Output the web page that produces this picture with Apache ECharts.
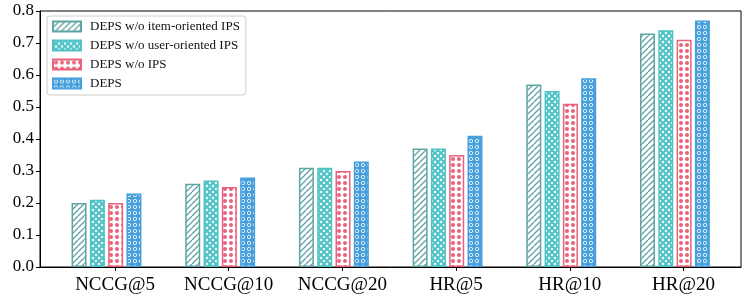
<!DOCTYPE html>
<html>
<head>
<meta charset="utf-8">
<script src="https://cdn.jsdelivr.net/npm/echarts@6/dist/echarts.min.js"></script>
<style>html,body{margin:0;padding:0;background:#fff}#c{width:747px;height:300px}</style>
</head>
<body>
<div id="c"></div>
<script>
const categories = ['NCCG@5', 'NCCG@10', 'NCCG@20', 'HR@5', 'HR@10', 'HR@20'];
const seriesNames = ['DEPS w/o item-oriented IPS', 'DEPS w/o user-oriented IPS', 'DEPS w/o IPS', 'DEPS'];
const woItem = [0.20, 0.26, 0.31, 0.37, 0.57, 0.73];
const woUser = [0.21, 0.27, 0.31, 0.37, 0.55, 0.74];
const woIPS = [0.20, 0.25, 0.30, 0.35, 0.51, 0.71];
const deps = [0.23, 0.28, 0.33, 0.41, 0.59, 0.77];
const yTicks = [0, 0.1, 0.2, 0.3, 0.4, 0.5, 0.6, 0.7, 0.8];

const colors = ['#5fa3a4', '#4fc2c6', '#e9627a', '#479fdb'];
const FONT = '"Liberation Serif", "Times New Roman", serif';

function mk(size, draw) {
  const c = document.createElement('canvas');
  c.width = size; c.height = size;
  const g = c.getContext('2d');
  draw(g, size);
  return { image: c, repeat: 'repeat' };
}
const patterns = [
  mk(6, (g, s) => {
    g.fillStyle = '#fff'; g.fillRect(0, 0, s, s);
    g.strokeStyle = colors[0]; g.lineWidth = 1.3;
    for (const o of [-s, 0, s]) {
      g.beginPath(); g.moveTo(o, s); g.lineTo(o + s, 0); g.stroke();
    }
  }),
  mk(6, (g, s) => {
    g.fillStyle = '#fff'; g.fillRect(0, 0, s, s);
    g.strokeStyle = colors[1]; g.lineWidth = 2;
    for (const o of [-s, 0, s]) {
      g.beginPath(); g.moveTo(o, s); g.lineTo(o + s, 0); g.stroke();
      g.beginPath(); g.moveTo(o, 0); g.lineTo(o + s, s); g.stroke();
    }
  }),
  mk(6, (g, s) => {
    g.fillStyle = '#fff'; g.fillRect(0, 0, s, s);
    g.fillStyle = colors[2];
    g.beginPath(); g.arc(3, 3, 2, 0, Math.PI * 2); g.fill();
  }),
  mk(6, (g, s) => {
    g.fillStyle = colors[3]; g.fillRect(0, 0, s, s);
    g.strokeStyle = '#e8f4fb'; g.lineWidth = 0.9;
    g.beginPath(); g.arc(3, 3, 1.7, 0, Math.PI * 2); g.stroke();
  })
];

const values = [woItem, woUser, woIPS, deps];
const groupOffset = -0.075;

const chart = echarts.init(document.getElementById('c'), null, { renderer: 'canvas' });
chart.setOption({
  animation: false,
  backgroundColor: '#fff',
  grid: { left: 40, right: 6, top: 11, bottom: 33, show: true, borderColor: '#000', borderWidth: 1, backgroundColor: 'transparent' },
  legend: {
    orient: 'vertical', left: 47, top: 16,
    itemWidth: 28, itemHeight: 10, itemGap: 6,
    padding: [4, 6, 5, 5],
    borderColor: '#cccccc', borderWidth: 1, borderRadius: 3,
    backgroundColor: '#fff',
    icon: 'rect',
    textStyle: { fontFamily: FONT, fontSize: 13, color: '#111', padding: [0, 0, 0, 4] },
    data: seriesNames
  },
  xAxis: {
    type: 'value', min: -0.66, max: 5.506,
    splitLine: { show: false },
    axisLine: { show: true, onZero: false, lineStyle: { color: '#000', width: 1 } },
    axisTick: { show: true, length: 4, lineStyle: { color: '#000' }, customValues: categories.map((_, i) => i) },
    axisLabel: {
      show: true, margin: 9, fontFamily: FONT, fontSize: 19, color: '#000',
      customValues: categories.map((_, i) => i),
      formatter: v => categories[Math.round(v)]
    }
  },
  yAxis: {
    type: 'value', min: 0, max: 0.8, interval: 0.1,
    splitLine: { show: false },
    axisLine: { show: true, onZero: false, lineStyle: { color: '#000', width: 1 } },
    axisTick: { show: true, length: 4, lineStyle: { color: '#000' } },
    axisLabel: { margin: 6, fontFamily: FONT, fontSize: 17, color: '#000', formatter: v => v.toFixed(1) }
  },
  series: seriesNames.map((name, k) => ({
    name, type: 'bar',
    barWidth: 15, barGap: '22%',
    itemStyle: { color: patterns[k], borderColor: colors[k], borderWidth: 1.5 },
    data: values[k].map((v, i) => [i + groupOffset, v])
  }))
});
</script>
</body>
</html>
